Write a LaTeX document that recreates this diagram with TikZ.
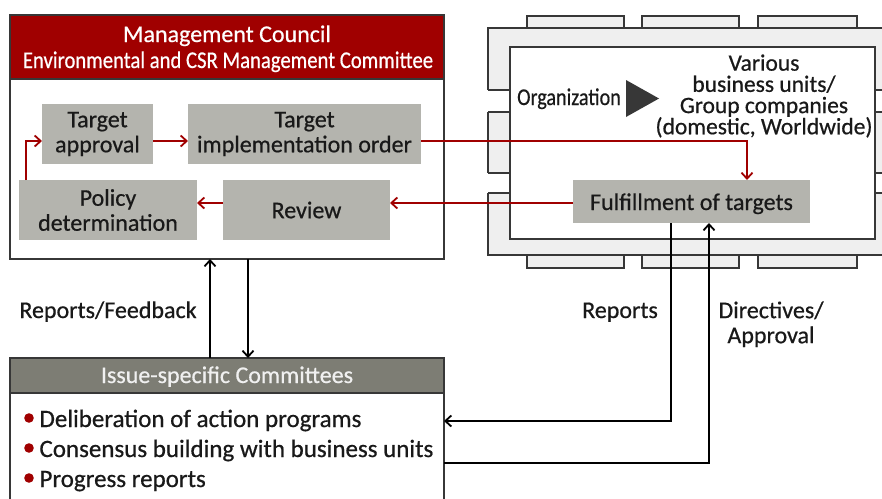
\documentclass[tikz,border=0pt]{standalone}
\usepackage{fontspec}
\setmainfont{Carlito}[FakeBold=0.6]
\usepackage{graphicx}
\usetikzlibrary{arrows.meta}
\definecolor{councilred}{RGB}{160,0,0}
\definecolor{stagegray}{RGB}{180,180,174}
\definecolor{issuegray}{RGB}{125,125,116}
\definecolor{framegray}{RGB}{239,239,239}
\definecolor{edgegray}{RGB}{55,55,55}
\definecolor{ink}{RGB}{25,25,25}
\newcommand{\hsqueeze}[2]{\scalebox{#1}[1]{#2}}

\begin{document}
\begin{tikzpicture}[x=1pt,y=-1pt,
  every node/.style={inner sep=0pt,outer sep=0pt,text=ink},
  txt/.style={font=\fontsize{24}{25}\selectfont},
  stagebox/.style={txt,fill=stagegray,align=center},
  panel/.style={draw=edgegray,line width=1.3pt},
  frameline/.style={draw=edgegray,line width=1.1pt},
  redflow/.style={draw=councilred,line width=2.2pt,-{Straight Barb[length=6pt,width=11pt,line width=1.8pt]}},
  blackflow/.style={draw=black,line width=2.2pt,-{Straight Barb[length=6pt,width=11pt,line width=1.8pt]}},
]
\useasboundingbox (0,0) rectangle (882,498);

% organization frame with its tabs
\foreach \a/\b in {527/624,642/739,758/857}{
  \draw[frameline,fill=framegray] (\a,16) rectangle (\b,28);
  \draw[frameline,fill=framegray] (\a,255) rectangle (\b,268);
}
\draw[frameline,fill=framegray] (488,28) rectangle (892,255);
\foreach \t/\u in {90/112,173/193}{
  \fill[white] (487,\t) rectangle (510,\u);
  \fill[white] (875,\t) rectangle (886,\u);
  \draw[frameline] (488,\t) -- (510,\t) (488,\u) -- (510,\u)
                   (875,\t) -- (886,\t) (875,\u) -- (886,\u);
}
\node[frameline,fill=white,minimum width=365pt,minimum height=192pt] (org) at (692.5,143) {};
\node[txt,anchor=base] (orglabel) at (569,105) {\hsqueeze{0.84}{Organization}};
\fill[edgegray] (626,80) -- (659,98.5) -- (626,117) -- cycle;
\node[txt,align=center,font=\fontsize{23.5}{21.2}\selectfont,anchor=north] (units) at (764,54.5)
  {Various\\business units/\\Group companies\\(domestic, Worldwide)};
\node[stagebox,minimum width=237pt,minimum height=43pt,text height=17pt,text depth=0pt] (fulfill) at (691.5,201.5) {Fulfillment of targets};

% management council
\node[panel,fill=white,minimum width=434pt,minimum height=244pt] (council) at (227,137) {};
\node[panel,fill=councilred,minimum width=434pt,minimum height=64pt] (councilhead) at (227,47) {};
\node[txt,text=white,anchor=base] (ctitle) at (227,42) {Management Council};
\node[txt,text=white,anchor=base] (csub) at (228,68) {\hsqueeze{0.862}{Environmental and CSR Management Committee}};

\node[stagebox,minimum width=111pt,minimum height=60pt] (approval) at (97.5,134) {Target\\approval};
\node[stagebox,minimum width=233pt,minimum height=60pt] (order) at (304.5,134) {Target\\implementation order};
\node[stagebox,minimum width=178pt,minimum height=60pt] (policy) at (108,210) {Policy\\determination};
\node[stagebox,minimum width=167pt,minimum height=60pt] (review) at (306.5,210) {Review};

% issue-specific committees
\node[panel,fill=white,minimum width=434pt,minimum height=130pt,anchor=north] (issuebody) at (227,393) {};
\node[panel,fill=issuegray,minimum width=434pt,minimum height=35pt] (issuehead) at (227,375.5) {};
\node[txt,text=white!94!black,anchor=base] (ititle) at (227,383) {Issue-specific Committees};
\foreach \n/\yb/\yc/\s in {1/427/418/Deliberation of action programs,
                           2/457/448/Consensus building with business units,
                           3/487/478/Progress reports}{
  \fill[councilred] (29,\yc) circle (4.8pt);
  \node[txt,font=\fontsize{25}{25}\selectfont,anchor=base west] (item\n) at (39.5,\yb) {\s};
}

% cycle inside the council
\draw[redflow] ([xshift=7pt]policy.north west) |- ([yshift=-7pt]approval.west);
\draw[redflow] ([yshift=-7pt]approval.east) -- ([yshift=-7pt]order.west);
\draw[redflow] ([yshift=-7pt]order.east) -| ([xshift=55.5pt]fulfill.north);
\draw[redflow] ([yshift=-1.5pt]fulfill.west) -- ([yshift=-1.5pt]fulfill.west -| review.east);
\draw[redflow] ([yshift=-1.5pt]fulfill.west -| review.west) -- ([yshift=-1.5pt]fulfill.west -| policy.east);

% reporting lines
\coordinate (upx) at (210,0);
\coordinate (downx) at (248,0);
\coordinate (rep) at (671,421);
\coordinate (dir) at (709,463);
\draw[blackflow] (upx |- issuehead.north) -- (upx |- council.south);
\draw[blackflow] (downx |- council.south) -- (downx |- issuehead.north);
\draw[blackflow] (rep |- fulfill.south) |- (issuebody.east |- rep);
\draw[blackflow] (issuebody.east |- dir) -| (dir |- fulfill.south);

\node[txt,anchor=base] (fblabel) at (108,318) {Reports/Feedback};
\node[txt,anchor=base] (replabel) at (620,318) {Reports};
\node[txt,align=center,anchor=north] (dirlabel) at (771,301.5) {Directives/\\Approval};
\end{tikzpicture}
\end{document}
